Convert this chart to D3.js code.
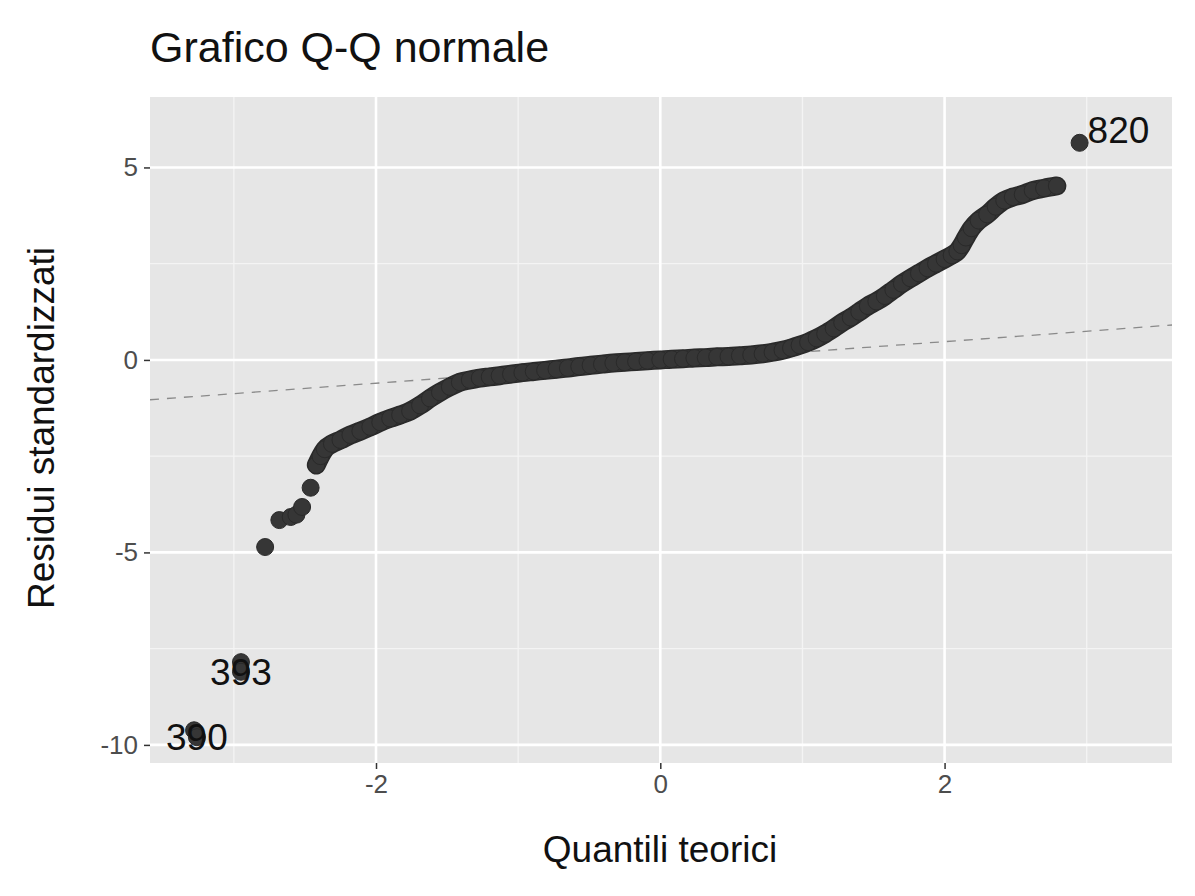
<!DOCTYPE html>
<html><head><meta charset="utf-8">
<script src="https://cdn.jsdelivr.net/npm/d3@7"></script>
<style>body{margin:0;background:#fff;font-family:"Liberation Sans",Arial,sans-serif}</style>
</head><body>
<script>
// theoretical quantile / standardized residual pairs
var qTheo = [-3.28,-3.26,-2.95,-2.95,-2.78,-2.68,-2.60,-2.56,-2.52,-2.46,
  -2.42,-2.39,-2.36,-2.31,-2.25,-2.18,-2.11,-2.04,-1.97,-1.90,-1.83,-1.76,-1.69,-1.62,-1.55,-1.48,-1.41,
  -1.34,-1.27,-1.20,-1.13,-1.05,-0.97,-0.89,-0.81,-0.73,-0.65,-0.57,-0.49,-0.41,-0.33,-0.25,-0.17,-0.09,0.00,
  0.08,0.16,0.24,0.32,0.40,0.48,0.56,0.64,0.72,0.79,0.86,0.92,0.98,1.04,1.10,1.16,1.22,1.28,1.34,1.40,1.46,
  1.52,1.58,1.64,1.70,1.76,1.82,1.88,1.94,2.00,2.05,2.09,2.12,2.15,2.19,2.24,2.30,2.36,2.42,2.48,2.55,2.62,2.70,2.79,2.95];
var qResid = [-9.62,-9.80,-7.85,-8.10,-4.86,-4.16,-4.08,-4.02,-3.82,-3.32,
  -2.73,-2.50,-2.32,-2.18,-2.08,-1.95,-1.85,-1.74,-1.62,-1.52,-1.43,-1.33,-1.18,-1.00,-0.84,-0.70,-0.58,
  -0.52,-0.47,-0.44,-0.41,-0.37,-0.33,-0.30,-0.27,-0.24,-0.21,-0.17,-0.14,-0.11,-0.08,-0.06,-0.04,-0.02,0.00,
  0.02,0.03,0.05,0.06,0.08,0.09,0.11,0.13,0.16,0.20,0.25,0.31,0.38,0.46,0.56,0.68,0.82,0.97,1.10,1.25,1.40,
  1.52,1.66,1.82,1.98,2.12,2.25,2.38,2.50,2.62,2.72,2.82,2.98,3.18,3.42,3.62,3.78,3.98,4.14,4.23,4.30,4.40,4.46,4.52,5.64];
var labelIds = [{i:1,t:"390"},{i:3,t:"393"},{i:89,t:"820"}];
var xTicks = [-2,0,2], yTicks = [5,0,-5,-10];
var qqLine = {slope:0.27, intercept:-0.065};

var W = 1195, H = 896, m = {l:150, r:23, t:97, b:133};
var svg = d3.select("body").append("svg").attr("width",W).attr("height",H);
var x = d3.scaleLinear().domain([-3.59,3.6]).range([m.l,W-m.r]);
var y = d3.scaleLinear().domain([-10.47,6.83]).range([H-m.b,m.t]);

svg.append("rect").attr("x",m.l).attr("y",m.t).attr("width",W-m.l-m.r).attr("height",H-m.t-m.b).attr("fill","#e6e6e6");
var g = svg.append("g");
// minor grid
[-3,-1,1,3].forEach(function(v){g.append("line").attr("x1",x(v)).attr("x2",x(v)).attr("y1",m.t).attr("y2",H-m.b).attr("stroke","#f4f4f4").attr("stroke-width",1.3);});
[2.5,-2.5,-7.5].forEach(function(v){g.append("line").attr("y1",y(v)).attr("y2",y(v)).attr("x1",m.l).attr("x2",W-m.r).attr("stroke","#f4f4f4").attr("stroke-width",1.3);});
xTicks.forEach(function(v){g.append("line").attr("x1",x(v)).attr("x2",x(v)).attr("y1",m.t).attr("y2",H-m.b).attr("stroke","#fff").attr("stroke-width",2.6);});
yTicks.forEach(function(v){g.append("line").attr("y1",y(v)).attr("y2",y(v)).attr("x1",m.l).attr("x2",W-m.r).attr("stroke","#fff").attr("stroke-width",2.6);});

// qq line
svg.append("line").attr("x1",x(-3.59)).attr("y1",y(qqLine.intercept+qqLine.slope*-3.59))
  .attr("x2",x(3.6)).attr("y2",y(qqLine.intercept+qqLine.slope*3.6))
  .attr("stroke","#8a8a8a").attr("stroke-width",1.3).attr("stroke-dasharray","9,8");

var pts = qTheo.map(function(d,i){return [d,qResid[i]];});
// dense body of overlapping points, drawn as a thick band through the same values
var dense = pts.slice(10,89);
svg.append("path").datum(dense)
  .attr("d",d3.line().x(function(d){return x(d[0]);}).y(function(d){return y(d[1]);}).curve(d3.curveMonotoneX))
  .attr("fill","none").attr("stroke","#2a2a2a").attr("stroke-width",19).attr("stroke-linecap","round").attr("stroke-linejoin","round");
svg.append("path").datum(dense)
  .attr("d",d3.line().x(function(d){return x(d[0]);}).y(function(d){return y(d[1]);}).curve(d3.curveMonotoneX))
  .attr("fill","none").attr("stroke","#363636").attr("stroke-width",16).attr("stroke-linecap","round").attr("stroke-linejoin","round");
svg.append("g").selectAll("circle").data(pts).enter().append("circle")
  .attr("cx",function(d){return x(d[0]);}).attr("cy",function(d){return y(d[1]);})
  .attr("r",8.5).attr("fill","#363636").attr("stroke","#2a2a2a").attr("stroke-width",1);

labelIds.forEach(function(l){
  svg.append("text").attr("x",x(pts[l.i][0])+ (l.t=="820"?8:0)).attr("y",y(pts[l.i][1])+(l.t=="820"?0:13))
    .attr("text-anchor",l.t=="820"?"start":"middle").attr("font-size",37).attr("fill","#111").text(l.t);
});

// axes
var xa = svg.append("g").attr("transform","translate(0,"+(H-m.b)+")")
  .call(d3.axisBottom(x).tickValues(xTicks).tickSize(6).tickPadding(6).tickFormat(function(d){return String(d);}));
var ya = svg.append("g").attr("transform","translate("+m.l+",0)")
  .call(d3.axisLeft(y).tickValues(yTicks).tickSize(6).tickPadding(6).tickFormat(function(d){return String(d);}));
[xa,ya].forEach(function(a){
  a.select(".domain").remove();
  a.selectAll("line").attr("stroke","#333").attr("stroke-width",1.5);
  a.selectAll("text").attr("font-size",26).attr("fill","#4d4d4d").attr("font-family","Liberation Sans, Arial, sans-serif");
});

svg.append("text").attr("x",660).attr("y",862).attr("text-anchor","middle").attr("font-size",37).attr("fill","#111").text("Quantili teorici");
svg.append("text").attr("transform","translate(54,428) rotate(-90)").attr("text-anchor","middle").attr("font-size",37).attr("fill","#111").text("Residui standardizzati");
svg.append("text").attr("x",150).attr("y",62).attr("font-size",43).attr("fill","#111").text("Grafico Q-Q normale");
</script>
</body></html>
